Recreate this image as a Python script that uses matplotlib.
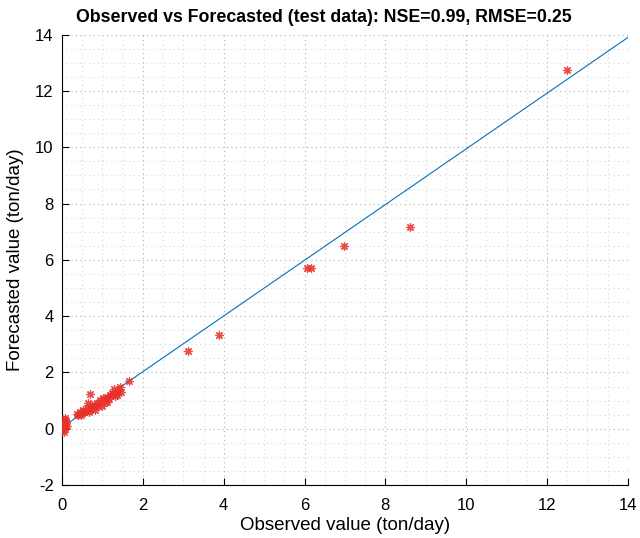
import matplotlib
matplotlib.use('Agg')
import matplotlib.pyplot as plt
import numpy as np

plt.rcParams['font.family'] = ['Liberation Sans', 'DejaVu Sans']
plt.rcParams['axes.unicode_minus'] = False

# observed / forecasted values
observed = [12.5, 8.6, 6.97, 6.05, 6.15, 3.88, 3.12, 1.65,
            1.44, 1.46, 1.29, 1.35, 1.24, 1.19, 1.11, 1.11, 1.02, 0.98, 0.94,
            0.86, 0.82, 0.78, 0.69, 0.65, 0.61, 0.58, 0.53, 0.50, 0.45, 0.40,
            0.36, 1.38, 1.15, 1.05, 0.90, 0.72, 0.66, 0.55, 0.48, 0.75, 1.30,
            0.07, 0.03, 0.00, 0.07, 0.05, 0.10, 0.02, 0.12, 0.08, 0.04, 0.01]
forecasted = [12.75, 7.15, 6.5, 5.72, 5.72, 3.32, 2.75, 1.68,
              1.50, 1.32, 1.41, 1.20, 1.26, 1.20, 1.14, 0.96, 1.08, 0.79, 1.02,
              0.91, 0.67, 0.79, 1.23, 0.91, 0.73, 0.62, 0.67, 0.55, 0.61, 0.50,
              0.53, 1.35, 1.05, 0.95, 0.80, 0.70, 0.60, 0.58, 0.50, 0.85, 1.15,
              0.37, 0.19, 0.05, 0.02, 0.12, 0.25, -0.05, 0.08, 0.30, -0.10, 0.10]
fit_x = [0.0, 14.0]
fit_y = [0.05, 13.9]

fig = plt.figure(figsize=(6.4, 5.38), dpi=100)
ax = fig.add_axes([0.097, 0.0985, 0.884, 0.837])

ax.plot(fit_x, fit_y, color='#0072BD', linewidth=0.8, zorder=2)
ax.plot(observed, forecasted, linestyle='none', marker=(8, 2, 0), markersize=6,
        markeredgewidth=0.9, color='#E8302A', alpha=0.85, zorder=3)

ax.set_xlim(0, 14)
ax.set_ylim(-2, 14)
ax.set_xticks(np.arange(0, 15, 2))
ax.set_yticks(np.arange(-2, 15, 2))
ax.set_xticks(np.arange(0, 14.01, 0.5), minor=True)
ax.set_yticks(np.arange(-2, 14.01, 0.5), minor=True)
ax.grid(True, which='major', linestyle=(0, (1, 3)), color='#b0b0b0', linewidth=0.8)
ax.grid(True, which='minor', linestyle=(0, (1, 3)), color='#d8d8d8', linewidth=0.8)
ax.tick_params(which='major', direction='in', length=5, labelsize=12, pad=9,
               top=False, right=False)
ax.tick_params(axis='y', which='major', pad=6)
ax.tick_params(which='minor', length=0)
ax.spines['top'].set_visible(False)
ax.spines['right'].set_visible(False)

ax.set_xlabel('Observed value (ton/day)', fontsize=13.5, labelpad=3)
ax.set_ylabel('Forecasted value (ton/day)', fontsize=13.5, labelpad=8)
ax.set_title('Observed vs Forecasted (test data): NSE=0.99, RMSE=0.25',
             fontsize=12.8, fontweight='bold', pad=9, x=0.463)

fig.savefig('out.png', dpi=100)
